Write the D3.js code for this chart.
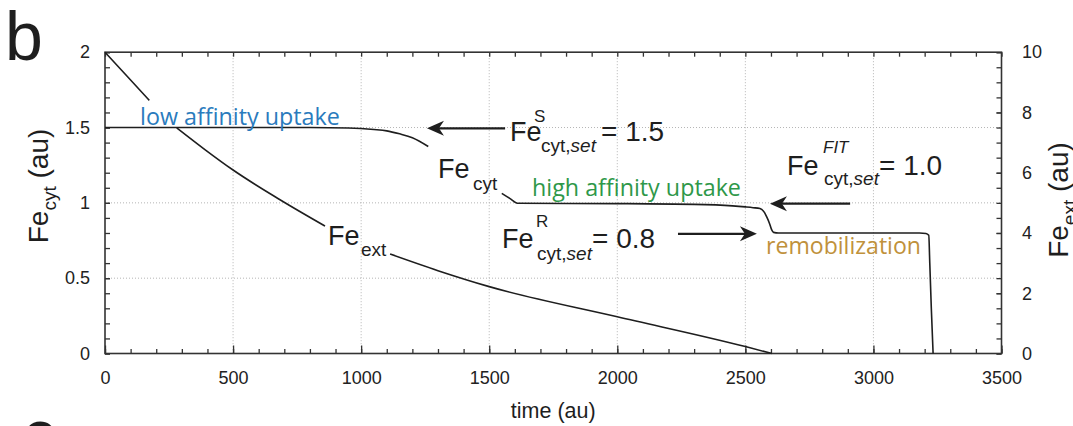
<!DOCTYPE html>
<html>
<head>
<meta charset="utf-8">
<script src="https://cdn.jsdelivr.net/npm/d3@7"></script>
<style>
  html, body { margin: 0; padding: 0; background: #fff; }
  svg { display: block; }
  text { font-family: "Liberation Sans", Arial, Helvetica, sans-serif; }
  .lbl { font-family: "Open Sans", "Noto Sans", sans-serif; }
</style>
</head>
<body>
<svg id="chart" width="1073" height="426"></svg>
<script>
// ---------------- data ----------------
const timeTicks = [0, 500, 1000, 1500, 2000, 2500, 3000, 3500];
const cytTicks = [0, 0.5, 1, 1.5, 2];
const extTicks = [0, 2, 4, 6, 8, 10];

// cytosolic iron (left axis); null marks a gap behind a label
const cytTime  = [0, 800, 950, 1050, 1100, 1150, 1200, 1262, null,
                  1549, 1580, 1614, 2000, 2300, 2450, 2500, 2530, 2557, 2575, 2583, 2595, 2603, 2610, 2630,
                  3180, 3205, 3216, 3220, 3226, 3233];
const cytValue = [1.5, 1.5, 1.497, 1.487, 1.478, 1.458, 1.432, 1.374, null,
                  1.063, 1.03, 0.997, 0.995, 0.99, 0.98, 0.973, 0.968, 0.962, 0.935, 0.908, 0.86, 0.82, 0.804, 0.8,
                  0.8, 0.797, 0.785, 0.6, 0.3, 0];

// external iron (right axis)
const extTime  = [0, 90, 173, null, 280, 390, 500, 680, 859, null, 1113, 1300, 1500, 2000, 2500, 2603];
const extValue = [10, 9.17, 8.40, null, 7.49, 6.77, 6.09, 5.12, 4.23, null, 3.30, 2.75, 2.22, 1.22, 0.23, 0];

// set points
const setpointNames  = ["S", "FIT", "R"];
const setpointValues = [1.5, 1.0, 0.8];

// region labels
const regionLabels = ["low affinity uptake", "high affinity uptake", "remobilization"];

// ---------------- layout ----------------
const svg = d3.select("#chart");
const L = 105, R = 1001.5, T = 52.2, B = 353.5;
const INK = "#1e1e1e";

const x  = d3.scaleLinear().domain([0, 3500]).range([L, R]);
const yL = d3.scaleLinear().domain([0, 2]).range([B, T]);
const yR = d3.scaleLinear().domain([0, 10]).range([B, T]);

svg.append("rect").attr("width", 1073).attr("height", 426).attr("fill", "#fff");

// grid
const grid = svg.append("g").attr("stroke", "#b5b5b5").attr("stroke-width", 1).attr("stroke-dasharray", "1,2");
grid.selectAll("line.gx").data(timeTicks.filter(t => t > 0 && t < 3500)).join("line")
  .attr("x1", d => x(d)).attr("x2", d => x(d)).attr("y1", T).attr("y2", B);
grid.selectAll("line.gy").data(cytTicks.filter(v => v > 0 && v < 2)).join("line")
  .attr("y1", d => yL(d)).attr("y2", d => yL(d)).attr("x1", L).attr("x2", R);

// axes
function styleAxis(g) {
  g.select(".domain").remove();
  g.selectAll(".tick line").attr("stroke", "#333").attr("stroke-width", 1.3);
  g.selectAll(".tick text").attr("font-size", 18).style("fill", "#222")
    .attr("font-family", "'Liberation Sans', Arial, sans-serif");
}
const minorT = d3.range(0, 3501, 100);
const minorL = d3.range(0, 2.001, 0.1);

svg.append("g").attr("transform", `translate(0,${B})`)
  .call(d3.axisBottom(x).tickValues(minorT).tickSize(-4.5).tickFormat(""))
  .call(styleAxis);
svg.append("g").attr("transform", `translate(0,${B})`)
  .call(d3.axisBottom(x).tickValues(timeTicks).tickSize(-8).tickPadding(18).tickFormat(d3.format("d")))
  .call(styleAxis);
svg.append("g").attr("transform", `translate(0,${T})`)
  .call(d3.axisTop(x).tickValues(minorT).tickSize(-4.5).tickFormat(""))
  .call(styleAxis);
svg.append("g").attr("transform", `translate(${L},0)`)
  .call(d3.axisLeft(yL).tickValues(minorL).tickSize(-5).tickFormat(""))
  .call(styleAxis);
svg.append("g").attr("transform", `translate(${L},0)`)
  .call(d3.axisLeft(yL).tickValues(cytTicks).tickSize(-5).tickPadding(15).tickFormat(d => d3.format("")(d)))
  .call(styleAxis);
svg.append("g").attr("transform", `translate(${R},0)`)
  .call(d3.axisRight(yR).tickValues(d3.range(0, 10.01, 0.5)).tickSize(-5).tickFormat(""))
  .call(styleAxis);
svg.append("g").attr("transform", `translate(${R},0)`)
  .call(d3.axisRight(yR).tickValues(extTicks).tickSize(-5).tickPadding(20.5).tickFormat(d3.format("d")))
  .call(styleAxis);

// frame
svg.append("rect").attr("x", L).attr("y", T).attr("width", R - L).attr("height", B - T)
  .attr("fill", "none").attr("stroke", "#333").attr("stroke-width", 1.6);

// curves
const cytData = cytTime.map((t, i) => ({ t, v: cytValue[i] }));
const extData = extTime.map((t, i) => ({ t, v: extValue[i] }));
const lineCyt = d3.line().defined(d => d.v != null && d.t != null)
  .x(d => x(d.t)).y(d => yL(d.v)).curve(d3.curveMonotoneX);
const lineExt = d3.line().defined(d => d.v != null && d.t != null)
  .x(d => x(d.t)).y(d => yR(d.v)).curve(d3.curveMonotoneX);
svg.append("path").attr("d", lineExt(extData)).attr("fill", "none").attr("stroke", INK).attr("stroke-width", 1.6);
svg.append("path").attr("d", lineCyt(cytData)).attr("fill", "none").attr("stroke", INK).attr("stroke-width", 1.6);

// region labels
function fitLabel(txt, x0, yb, width, color) {
  const t = svg.append("text").attr("class", "lbl").attr("x", x0).attr("y", yb)
    .attr("font-size", 20).style("fill", color).text(txt);
  const w = t.node().getComputedTextLength();
  t.attr("font-size", 20 * width / w);
  return t;
}
fitLabel(regionLabels[0], 140, 125, 200, "#2a7bbd");
fitLabel(regionLabels[1], 532, 196, 209, "#2e9849");
fitLabel(regionLabels[2], 766, 254, 155, "#c0913b");

// Fe labels with sub/superscripts
function feText(xf, yb, sub, subX, subDy, sup, supX, supDy, tail, tailX, italicSet) {
  const g = svg.append("g").style("fill", INK);
  g.append("text").attr("x", xf).attr("y", yb).attr("font-size", 27).text("Fe");
  const s = g.append("text").attr("x", subX).attr("y", yb + subDy).attr("font-size", 19);
  if (italicSet) {
    s.append("tspan").text("cyt,");
    s.append("tspan").attr("font-style", "italic").text("set");
  } else {
    s.text(sub);
  }
  if (sup) {
    g.append("text").attr("x", supX).attr("y", yb + supDy).attr("font-size", 17)
      .attr("font-style", sup === "FIT" ? "italic" : "normal").text(sup);
  }
  if (tail) g.append("text").attr("x", tailX).attr("y", yb).attr("font-size", 28).text(tail);
}
feText(438, 178, "cyt", 473, 12);
feText(328, 245, "ext", 361, 11);
feText(510, 141, null, 541, 11, setpointNames[0], 534, -19, "= " + d3.format(".1f")(setpointValues[0]), 601, true);
feText(787, 175, null, 824, 10, setpointNames[1], 823, -22, "= " + d3.format(".1f")(setpointValues[1]), 879, true);
feText(502, 248, null, 537, 12, setpointNames[2], 536, -21, "= " + d3.format(".1f")(setpointValues[2]), 592, true);

// arrows
function arrow(t0, t1, v) {
  const x0 = x(t0), x1 = x(t1), y = yL(v) + 0.8;
  const dir = x1 < x0 ? 1 : -1; // head points toward x1
  svg.append("line").attr("x1", x0).attr("x2", x1 + dir * 10).attr("y1", y).attr("y2", y)
    .attr("stroke", INK).attr("stroke-width", 2.2);
  svg.append("path")
    .attr("d", `M0,0 L17,-7.5 L12,0 L17,7.5 Z`)
    .attr("transform", `translate(${x1},${y}) scale(${dir},1)`)
    .attr("fill", INK);
}
arrow(1562, 1257, setpointValues[0]);
arrow(2909, 2596, setpointValues[1]);
arrow(2237, 2545, setpointValues[2]);

// axis titles
const lt = svg.append("text").attr("transform", `translate(48,186) rotate(-90)`)
  .attr("text-anchor", "middle").attr("font-size", 28).style("fill", INK);
lt.append("tspan").text("Fe");
lt.append("tspan").attr("font-size", 19).attr("dy", 8).text("cyt");
lt.append("tspan").attr("dy", -8).text(" (au)");

const rt = svg.append("text").attr("transform", `translate(1068,200) rotate(-90)`)
  .attr("text-anchor", "middle").attr("font-size", 28).style("fill", INK);
rt.append("tspan").text("Fe");
rt.append("tspan").attr("font-size", 19).attr("dy", 8).text("ext");
rt.append("tspan").attr("dy", -8).text(" (au)");

svg.append("text").attr("x", (L + R) / 2).attr("y", 418).attr("text-anchor", "middle")
  .attr("font-size", 21.5).style("fill", INK).text("time (au)");

// panel letters
svg.append("text").attr("x", 5).attr("y", 60).attr("font-size", 68).style("fill", INK).text("b");
svg.append("text").attr("x", 22).attr("y", 458).attr("font-size", 68).style("fill", INK).text("c");
</script>
</body>
</html>
